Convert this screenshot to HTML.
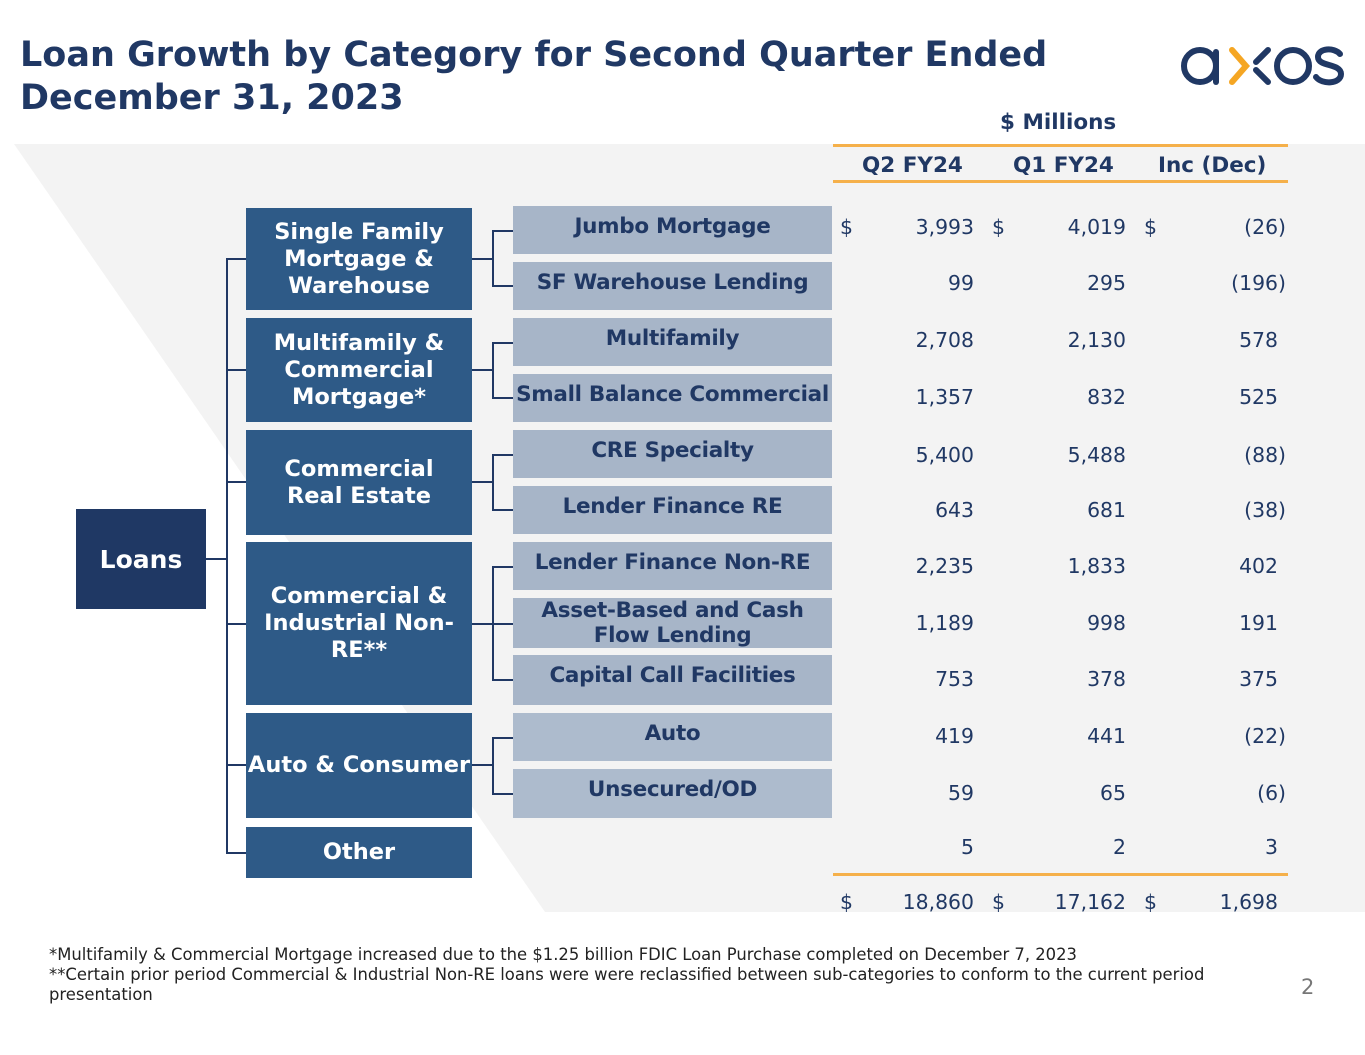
<!DOCTYPE html>
<html><head><meta charset="utf-8"><style>
body{margin:0;width:1365px;height:1055px;background:#fff;position:relative;overflow:hidden;font-family:"DejaVu Sans","Liberation Sans",sans-serif;}
.a{position:absolute;}
.t{left:20px;top:34px;font-size:35px;font-weight:bold;color:#203864;line-height:43px;}
.cat{position:absolute;left:246px;width:226px;background:#2e5a87;color:#fff;font-weight:bold;font-size:22.5px;display:flex;align-items:center;justify-content:center;text-align:center;line-height:27px;white-space:nowrap}
.sub{position:absolute;left:513px;width:319px;background:#a7b5c8;color:#203864;font-weight:bold;font-size:21.5px;text-align:center;line-height:25px;display:flex;justify-content:center;align-items:flex-start;padding-top:8px;box-sizing:border-box;white-space:nowrap;letter-spacing:-0.3px}
.n{position:absolute;font-size:20.4px;color:#203864;}
.h{position:absolute;font-size:21.5px;font-weight:bold;color:#203864;}
.ln{position:absolute;background:#203864;}
.fn{left:49px;top:945px;font-size:16.4px;color:#222;line-height:20px;}
</style></head><body>
<svg class="a" style="left:0;top:0" width="1365" height="1055"><polygon points="14,144 1365,144 1365,912 545,912" fill="#f3f3f3"/>
<g fill="none" stroke-width="6" stroke-linecap="round">
<circle cx="1200" cy="66" r="16" stroke="#203864"/><line x1="1216" y1="52" x2="1216" y2="82" stroke="#203864"/>
<polyline points="1232,50 1246,66 1232,82" stroke="#f5a623"/>
<line x1="1268" y1="50" x2="1256" y2="62" stroke="#203864"/><line x1="1256" y1="70" x2="1268" y2="82" stroke="#203864"/>
<circle cx="1293" cy="66" r="16" stroke="#203864"/>
<path d="M1340,54 C1334,47 1318,48 1318,57 C1318,67 1341,63 1341,74 C1341,84 1322,85 1316,77" stroke="#203864"/>
</g></svg>
<div class="a t">Loan Growth by Category for Second Quarter Ended<br>December 31, 2023</div>
<div class="h" style="left:1000px;top:110px">$ Millions</div>
<div class="a" style="left:833px;top:144px;width:455px;height:3px;background:#f5b04a"></div>
<div class="a" style="left:833px;top:180px;width:455px;height:3px;background:#f5b04a"></div>
<div class="a" style="left:833px;top:873px;width:455px;height:3px;background:#f5b04a"></div>
<div class="h" style="left:862px;top:153px">Q2 FY24</div>
<div class="h" style="left:1013px;top:153px">Q1 FY24</div>
<div class="h" style="left:1158px;top:153px">Inc (Dec)</div>

<div class="cat" style="left:76px;width:130px;top:509px;height:100px;background:#1f3864;font-size:25px">Loans</div>
<div class="cat" style="top:208px;height:102px">Single Family<br>Mortgage &amp;<br>Warehouse</div>
<div class="cat" style="top:318px;height:104px">Multifamily &amp;<br>Commercial<br>Mortgage*</div>
<div class="cat" style="top:430px;height:105px">Commercial<br>Real Estate</div>
<div class="cat" style="top:542px;height:163px">Commercial &amp;<br>Industrial Non-<br>RE**</div>
<div class="cat" style="top:713px;height:105px">Auto &amp; Consumer</div>
<div class="cat" style="top:827px;height:51px">Other</div>

<div class="sub" style="top:206px;height:48px">Jumbo Mortgage</div>
<div class="sub" style="top:262px;height:48px">SF Warehouse Lending</div>
<div class="sub" style="top:318px;height:48px">Multifamily</div>
<div class="sub" style="top:374px;height:48px">Small Balance Commercial</div>
<div class="sub" style="top:430px;height:48px">CRE Specialty</div>
<div class="sub" style="top:486px;height:48px">Lender Finance RE</div>
<div class="sub" style="top:542px;height:48px">Lender Finance Non-RE</div>
<div class="sub" style="top:598px;height:50px;padding-top:0;line-height:25px;align-items:center;white-space:normal">Asset-Based and Cash<br>Flow Lending</div>
<div class="sub" style="top:655px;height:50px">Capital Call Facilities</div>
<div class="sub" style="top:713px;height:48px;background:#adbbcd">Auto</div>
<div class="sub" style="top:769px;height:49px;background:#adbbcd">Unsecured/OD</div>

<div class="ln" style="left:206px;top:558px;width:21px;height:2px"></div>
<div class="ln" style="left:226px;top:259px;width:2px;height:595px"></div>
<div class="ln" style="left:226px;top:258px;width:20px;height:2px"></div>
<div class="ln" style="left:226px;top:369px;width:20px;height:2px"></div>
<div class="ln" style="left:226px;top:481px;width:20px;height:2px"></div>
<div class="ln" style="left:226px;top:623px;width:20px;height:2px"></div>
<div class="ln" style="left:226px;top:764px;width:20px;height:2px"></div>
<div class="ln" style="left:226px;top:852px;width:20px;height:2px"></div>

<div class="ln" style="left:472px;top:258px;width:21px;height:2px"></div>
<div class="ln" style="left:492px;top:230px;width:2px;height:57px"></div>
<div class="ln" style="left:492px;top:230px;width:21px;height:2px"></div><div class="ln" style="left:492px;top:285px;width:21px;height:2px"></div>
<div class="ln" style="left:472px;top:369px;width:21px;height:2px"></div>
<div class="ln" style="left:492px;top:342px;width:2px;height:57px"></div>
<div class="ln" style="left:492px;top:342px;width:21px;height:2px"></div><div class="ln" style="left:492px;top:397px;width:21px;height:2px"></div>
<div class="ln" style="left:472px;top:481px;width:21px;height:2px"></div>
<div class="ln" style="left:492px;top:454px;width:2px;height:57px"></div>
<div class="ln" style="left:492px;top:454px;width:21px;height:2px"></div><div class="ln" style="left:492px;top:509px;width:21px;height:2px"></div>
<div class="ln" style="left:472px;top:623px;width:21px;height:2px"></div>
<div class="ln" style="left:492px;top:566px;width:2px;height:115px"></div>
<div class="ln" style="left:492px;top:566px;width:21px;height:2px"></div><div class="ln" style="left:492px;top:623px;width:21px;height:2px"></div><div class="ln" style="left:492px;top:679px;width:21px;height:2px"></div>
<div class="ln" style="left:472px;top:764px;width:21px;height:2px"></div>
<div class="ln" style="left:492px;top:737px;width:2px;height:57px"></div>
<div class="ln" style="left:492px;top:737px;width:21px;height:2px"></div><div class="ln" style="left:492px;top:793px;width:21px;height:2px"></div>

<div id="tbl"></div>
<script>
var rows=[[227,"3,993","4,019","(26)",1],[283,"99","295","(196)"],[340,"2,708","2,130","578"],[397,"1,357","832","525"],[455,"5,400","5,488","(88)"],[510,"643","681","(38)"],[566,"2,235","1,833","402"],[623,"1,189","998","191"],[679,"753","378","375"],[736,"419","441","(22)"],[793,"59","65","(6)"],[847,"5","2","3"],[902,"18,860","17,162","1,698",1]];
var h="";rows.forEach(function(r){var y=r[0]-12;
if(r[4]){h+='<div class="n" style="left:840px;top:'+y+'px">$</div><div class="n" style="left:992px;top:'+y+'px">$</div><div class="n" style="left:1144px;top:'+y+'px">$</div>';}
h+='<div class="n" style="right:'+(1365-974)+'px;top:'+y+'px">'+r[1]+'</div>';
h+='<div class="n" style="right:'+(1365-1126)+'px;top:'+y+'px">'+r[2]+'</div>';
var p=r[3].charAt(0)=="(";
h+='<div class="n" style="right:'+(1365-(p?1286:1278))+'px;top:'+y+'px">'+r[3]+'</div>';});
document.getElementById("tbl").innerHTML=h;
</script>
<div class="a fn">*Multifamily &amp; Commercial Mortgage increased due to the $1.25 billion FDIC Loan Purchase completed on December 7, 2023<br>**Certain prior period Commercial &amp; Industrial Non-RE loans were were reclassified between sub-categories to conform to the current period<br>presentation</div>
<div class="a" style="left:1301px;top:975px;font-size:21px;color:#777">2</div>
</body></html>
